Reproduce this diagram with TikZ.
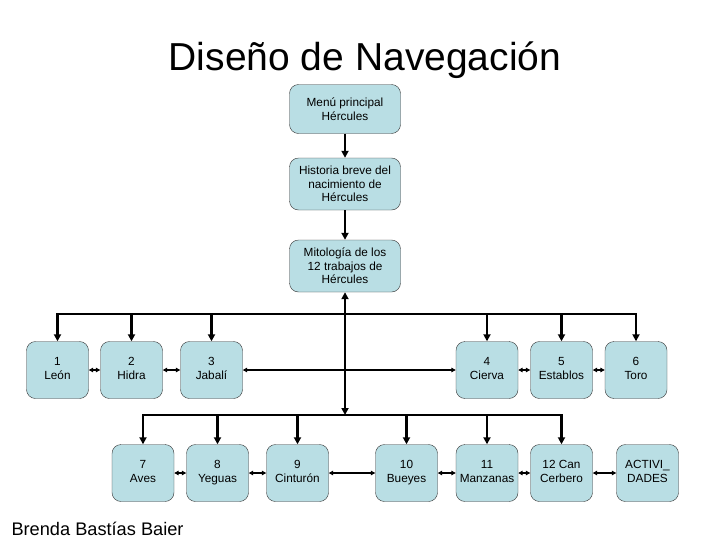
\documentclass[tikz,border=0pt]{standalone}
\usepackage{fontspec}
\setmainfont{Liberation Sans}
\usetikzlibrary{arrows.meta}
\definecolor{cajaazul}{RGB}{185,222,228}
\tikzset{
	caja/.style={draw=black!80, fill=cajaazul, rounded corners=9pt, align=center, inner sep=0pt},
	cajamenu/.style={caja, minimum width=111pt, minimum height=52pt, font=\fontsize{11.8}{13.5}\selectfont},
	cajatrab/.style={caja, minimum width=62pt, minimum height=57pt, font=\fontsize{11.8}{14}\selectfont},
	flecha/.style={line width=2.4pt, -{Triangle[length=7pt,width=7pt]}},
	enlace/.style={line width=1.1pt, {Triangle[length=4.5pt,width=4.5pt]}-{Triangle[length=4.5pt,width=4.5pt]}}
}
\newcommand{\trabajo}[2]{\strut#1\\\strut#2}
\begin{document}
\begin{tikzpicture}[x=1pt, y=-1pt]
		\useasboundingbox (0,0) rectangle (728,546);

		\node[anchor=base, font=\fontsize{39}{44}\selectfont] (titulo) at (365,70) {Diseño de Navegación};
		\node[anchor=base west, font=\fontsize{18.2}{20}\selectfont] (autora) at (8,535) {Brenda Bastías Baier};

		\node[cajamenu, minimum height=49pt] (menu) at (345,109) {Menú principal\\Hércules};
		\node[cajamenu] (historia) at (345,184) {Historia breve del\\nacimiento de\\Hércules};
		\node[cajamenu] (mito) at (345,266) {Mitología de los\\12 trabajos de\\Hércules};

		\node[cajatrab] (leon) at (57.5,370) {\trabajo{1}{León}};
		\node[cajatrab] (hidra) at (131.5,370) {\trabajo{2}{Hidra}};
		\node[cajatrab] (jabali) at (211.5,370) {\trabajo{3}{Jabalí}};
		\node[cajatrab] (cierva) at (487,370) {\trabajo{4}{Cierva}};
		\node[cajatrab] (establos) at (561.5,370) {\trabajo{5}{Establos}};
		\node[cajatrab] (toro) at (636,370) {\trabajo{6}{Toro}};

		\node[cajatrab] (aves) at (143,473) {\trabajo{7}{Aves}};
		\node[cajatrab] (yeguas) at (217.5,473) {\trabajo{8}{Yeguas}};
		\node[cajatrab] (cinturon) at (297.5,473) {\trabajo{9}{Cinturón}};
		\node[cajatrab] (bueyes) at (406.5,473) {\trabajo{10}{Bueyes}};
		\node[cajatrab] (manzanas) at (487,473) {\trabajo{11}{Manzanas}};
		\node[cajatrab] (cerbero) at (561.5,473) {\trabajo{12 Can}{Cerbero}};
		\node[cajatrab] (activ) at (647.5,473) {\trabajo{ACTIVI\_}{DADES}};

		\coordinate (bus1) at (345,314);
		\coordinate (bus2) at (345,415);

		\path (menu) edge[flecha] (historia)
		(historia) edge[flecha] (mito);
		\draw[flecha, {Triangle[length=7pt,width=7pt]}-{Triangle[length=7pt,width=7pt]}] (mito.south) -- (bus2);

		% primera fila
		\draw[flecha] (bus1) -| (leon.north);
		\draw[flecha] (bus1) -| (toro.north);
		\path (hidra.north |- bus1) edge[flecha] (hidra.north)
		(jabali.north |- bus1) edge[flecha] (jabali.north)
		(cierva.north |- bus1) edge[flecha] (cierva.north)
		(establos.north |- bus1) edge[flecha] (establos.north);

		% segunda fila
		\draw[flecha] (bus2) -| (aves.north);
		\draw[flecha] (bus2) -| (cerbero.north);
		\path (yeguas.north |- bus2) edge[flecha] (yeguas.north)
		(cinturon.north |- bus2) edge[flecha] (cinturon.north)
		(bueyes.north |- bus2) edge[flecha] (bueyes.north)
		(manzanas.north |- bus2) edge[flecha] (manzanas.north);

		\path (leon) edge[enlace] (hidra)
		(hidra) edge[enlace] (jabali)
		(jabali) edge[enlace] (cierva)
		(cierva) edge[enlace] (establos)
		(establos) edge[enlace] (toro)
		(aves) edge[enlace] (yeguas)
		(yeguas) edge[enlace] (cinturon)
		(cinturon) edge[enlace] (bueyes)
		(bueyes) edge[enlace] (manzanas)
		(manzanas) edge[enlace] (cerbero)
		(cerbero) edge[enlace] (activ);
	\end{tikzpicture}
\end{document}
